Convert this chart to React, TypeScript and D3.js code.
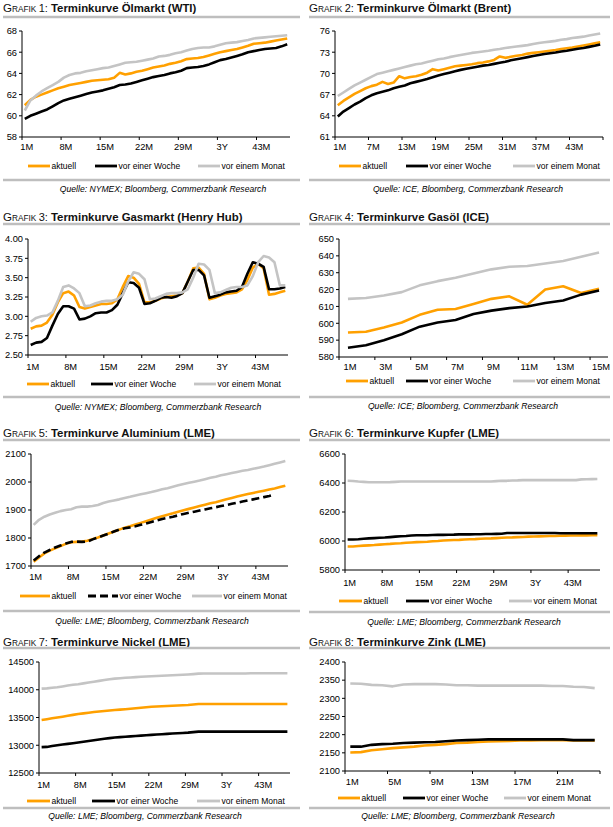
import * as d3 from "d3"

const ORANGE = "#FFA000"
const BLACK = "#000000"
const GRAY = "#C4C4C4"
const RULE = "#BEBEBE"
const FONT = "'Liberation Sans', Arial, Helvetica, sans-serif"

const months = (n: number) => d3.range(1, n + 1).map((m) => `${m}M`)

// categories
const cat48 = months(48)
const cat15 = months(15)
const cat24 = months(24)
const labelAlias: Record<string, string> = { "36M": "3Y" }

const legendNames = ["aktuell", "vor einer Woche", "vor einem Monat"]

// Grafik 1: WTI
const wtiAktuell = [61.0, 61.5, 61.8, 62.0, 62.2, 62.4, 62.6, 62.75, 62.9, 63.0, 63.1, 63.2, 63.3, 63.35, 63.4, 63.45, 63.6, 64.05, 63.9, 64.0, 64.15, 64.25, 64.4, 64.55, 64.65, 64.75, 64.9, 65.0, 65.15, 65.35, 65.4, 65.45, 65.55, 65.7, 65.85, 66.0, 66.1, 66.2, 66.3, 66.45, 66.6, 66.8, 66.85, 66.9, 67.0, 67.1, 67.2, 67.3]
const wtiWoche = [59.7, 60.0, 60.2, 60.4, 60.6, 60.9, 61.2, 61.45, 61.6, 61.75, 61.9, 62.05, 62.2, 62.3, 62.4, 62.55, 62.7, 62.9, 62.95, 63.05, 63.2, 63.35, 63.5, 63.65, 63.75, 63.85, 64.0, 64.1, 64.25, 64.5, 64.55, 64.6, 64.7, 64.85, 65.05, 65.25, 65.35, 65.5, 65.65, 65.8, 66.0, 66.1, 66.2, 66.3, 66.35, 66.4, 66.55, 66.75]
const wtiMonat = [60.5, 61.45, 61.9, 62.3, 62.6, 62.9, 63.2, 63.6, 63.85, 64.0, 64.05, 64.2, 64.3, 64.4, 64.5, 64.55, 64.7, 64.85, 65.0, 65.05, 65.1, 65.2, 65.3, 65.4, 65.6, 65.65, 65.75, 65.9, 66.0, 66.15, 66.3, 66.4, 66.45, 66.45, 66.55, 66.7, 66.85, 66.9, 66.95, 67.05, 67.15, 67.3, 67.35, 67.4, 67.45, 67.5, 67.55, 67.6]

// Grafik 2: Brent
const brentAktuell = [65.5, 66.1, 66.6, 67.1, 67.5, 67.9, 68.2, 68.4, 68.8, 68.5, 68.7, 69.6, 69.3, 69.5, 69.6, 69.8, 70.1, 70.6, 70.4, 70.6, 70.8, 71.0, 71.1, 71.2, 71.3, 71.45, 71.55, 71.7, 71.9, 72.4, 72.2, 72.35, 72.5, 72.6, 72.8, 72.9, 73.0, 73.1, 73.2, 73.3, 73.45, 73.55, 73.65, 73.8, 73.95, 74.1, 74.25, 74.4]
const brentWoche = [63.9, 64.6, 65.1, 65.6, 66.0, 66.5, 66.9, 67.2, 67.4, 67.6, 67.9, 68.1, 68.3, 68.6, 68.8, 69.0, 69.2, 69.45, 69.7, 69.9, 70.1, 70.3, 70.5, 70.65, 70.8, 70.95, 71.1, 71.2, 71.35, 71.5, 71.65, 71.85, 72.0, 72.15, 72.3, 72.45, 72.6, 72.75, 72.85, 72.95, 73.1, 73.2, 73.35, 73.5, 73.6, 73.75, 73.9, 74.1]
const brentMonat = [66.8, 67.3, 67.8, 68.3, 68.7, 69.1, 69.5, 69.9, 70.1, 70.3, 70.5, 70.7, 70.9, 71.1, 71.3, 71.4, 71.6, 71.8, 72.0, 72.1, 72.3, 72.45, 72.6, 72.75, 72.9, 73.0, 73.1, 73.2, 73.35, 73.45, 73.6, 73.7, 73.8, 73.9, 74.0, 74.15, 74.3, 74.4, 74.5, 74.6, 74.75, 74.85, 75.0, 75.1, 75.2, 75.35, 75.5, 75.65]

// Grafik 3: Henry Hub
const gasAktuell = [2.84, 2.87, 2.88, 2.92, 3.02, 3.18, 3.3, 3.32, 3.27, 3.12, 3.1, 3.12, 3.14, 3.16, 3.16, 3.17, 3.22, 3.38, 3.52, 3.5, 3.42, 3.18, 3.18, 3.2, 3.23, 3.25, 3.26, 3.27, 3.3, 3.45, 3.62, 3.63, 3.55, 3.22, 3.24, 3.27, 3.29, 3.3, 3.31, 3.35, 3.47, 3.63, 3.68, 3.62, 3.28, 3.29, 3.31, 3.33]
const gasWoche = [2.63, 2.66, 2.67, 2.72, 2.88, 3.03, 3.13, 3.13, 3.1, 2.96, 2.97, 3.0, 3.04, 3.05, 3.05, 3.08, 3.15, 3.3, 3.44, 3.43, 3.37, 3.16, 3.17, 3.2, 3.24, 3.25, 3.24, 3.26, 3.3, 3.45, 3.6, 3.6, 3.53, 3.24, 3.26, 3.28, 3.31, 3.32, 3.33, 3.38, 3.55, 3.7, 3.68, 3.64, 3.35, 3.35, 3.36, 3.38]
const gasMonat = [2.93, 2.98, 3.0, 3.01, 3.05, 3.2, 3.38, 3.4, 3.36, 3.3, 3.13, 3.14, 3.17, 3.19, 3.2, 3.2, 3.22, 3.28, 3.45, 3.57, 3.55, 3.48, 3.22, 3.23, 3.26, 3.29, 3.3, 3.3, 3.31, 3.35, 3.5, 3.68, 3.67, 3.6, 3.3, 3.31, 3.34, 3.37, 3.38, 3.38, 3.4, 3.52, 3.7, 3.78, 3.76, 3.7, 3.4, 3.4]

// Grafik 4: Gasöl
const gasoilAktuell = [594.5, 595, 597.5, 600.5, 605, 608, 608.5, 611.5, 614.5, 616, 611, 620, 622, 618, 620.5]
const gasoilWoche = [585.5, 587, 590, 593.5, 598, 600.5, 602, 605.5, 607.5, 609, 610, 612, 613.5, 617, 619.5]
const gasoilMonat = [614.5, 615, 616.5, 618.5, 622.5, 625, 627, 629.5, 632, 633.5, 634, 635.5, 637, 639.5, 642]

// Grafik 5: Aluminium
const aluAktuell = [1715, 1730, 1745, 1755, 1763, 1771, 1779, 1785, 1786, 1787, 1790, 1796, 1802, 1809, 1816, 1823, 1830, 1837, 1842, 1848, 1854, 1860, 1866, 1872, 1878, 1883, 1888, 1894, 1899, 1904, 1909, 1914, 1919, 1924, 1928, 1933, 1938, 1943, 1948, 1953, 1957, 1961, 1965, 1969, 1973, 1977, 1982, 1987]
const aluWoche = [1720, 1735, 1748, 1757, 1766, 1773, 1780, 1786, 1787, 1786, 1787, 1795, 1802, 1809, 1815, 1823, 1830, 1835, 1838, 1842, 1847, 1852, 1857, 1863, 1868, 1872, 1876, 1881, 1886, 1890, 1894, 1898, 1902, 1906, 1910, 1914, 1918, 1922, 1926, 1930, 1934, 1938, 1942, 1946, 1950, 1955]
const aluMonat = [1847, 1865, 1876, 1884, 1890, 1896, 1900, 1903, 1910, 1912, 1912, 1914, 1918, 1925, 1930, 1934, 1938, 1943, 1947, 1952, 1956, 1960, 1964, 1969, 1974, 1978, 1983, 1988, 1993, 1997, 2001, 2005, 2010, 2015, 2019, 2024, 2028, 2032, 2036, 2040, 2043, 2047, 2051, 2055, 2060, 2065, 2070, 2075]

// Grafik 6: Kupfer
const cuAktuell = [5962, 5962, 5965, 5968, 5970, 5972, 5975, 5978, 5980, 5983, 5985, 5988, 5990, 5992, 5993, 5995, 5998, 6000, 6003, 6005, 6007, 6008, 6010, 6012, 6013, 6015, 6017, 6018, 6020, 6022, 6024, 6025, 6027, 6028, 6030, 6031, 6032, 6033, 6034, 6035, 6036, 6037, 6038, 6038, 6039, 6039, 6040, 6040]
const cuWoche = [6010, 6010, 6012, 6015, 6018, 6020, 6022, 6024, 6027, 6030, 6033, 6035, 6038, 6040, 6040, 6040, 6041, 6042, 6042, 6043, 6044, 6046, 6046, 6046, 6047, 6047, 6048, 6048, 6049, 6050, 6055, 6055, 6055, 6055, 6055, 6055, 6055, 6055, 6055, 6055, 6053, 6053, 6053, 6053, 6053, 6053, 6053, 6053]
const cuMonat = [6415, 6414, 6410, 6408, 6405, 6405, 6405, 6405, 6406, 6408, 6410, 6410, 6410, 6410, 6410, 6410, 6410, 6410, 6410, 6410, 6410, 6410, 6410, 6410, 6410, 6410, 6410, 6410, 6413, 6415, 6415, 6417, 6418, 6420, 6420, 6420, 6420, 6420, 6420, 6420, 6420, 6420, 6420, 6420, 6425, 6426, 6427, 6428]

// Grafik 7: Nickel
const niAktuell = [13455, 13470, 13485, 13500, 13515, 13530, 13547, 13563, 13575, 13587, 13598, 13608, 13617, 13626, 13634, 13642, 13650, 13659, 13668, 13677, 13686, 13694, 13699, 13704, 13708, 13712, 13716, 13720, 13724, 13733, 13742, 13742, 13742, 13742, 13742, 13742, 13742, 13742, 13742, 13742, 13742, 13742, 13742, 13742, 13742, 13742, 13742, 13742]
const niWoche = [12966, 12970, 12985, 13000, 13012, 13025, 13037, 13049, 13063, 13077, 13091, 13105, 13118, 13129, 13139, 13146, 13153, 13160, 13167, 13174, 13181, 13187, 13193, 13199, 13205, 13211, 13217, 13222, 13228, 13237, 13246, 13246, 13246, 13246, 13246, 13246, 13246, 13246, 13246, 13246, 13246, 13246, 13246, 13246, 13246, 13246, 13246, 13246]
const niMonat = [14020, 14025, 14035, 14045, 14060, 14075, 14090, 14100, 14115, 14130, 14145, 14160, 14175, 14188, 14200, 14208, 14215, 14222, 14228, 14233, 14238, 14243, 14248, 14253, 14257, 14262, 14266, 14270, 14275, 14282, 14290, 14292, 14292, 14292, 14292, 14292, 14292, 14292, 14292, 14292, 14296, 14296, 14296, 14296, 14296, 14296, 14296, 14296]

// Grafik 8: Zink
const znAktuell = [2151, 2152, 2157, 2160, 2163, 2165, 2167, 2170, 2172, 2174, 2177, 2178, 2180, 2181, 2182, 2183, 2184, 2184, 2185, 2185, 2185, 2184, 2184, 2184]
const znWoche = [2167, 2167, 2172, 2174, 2175, 2177, 2178, 2179, 2180, 2182, 2184, 2185, 2186, 2187, 2187, 2187, 2187, 2187, 2187, 2187, 2187, 2185, 2185, 2185]
const znMonat = [2341, 2340, 2337, 2336, 2333, 2338, 2339, 2339, 2339, 2338, 2336, 2336, 2335, 2335, 2335, 2335, 2335, 2335, 2335, 2334, 2334, 2332, 2331, 2328]

type Box = {
  left: number
  ruleRight: number
  titleY: number
  ruleY: number
  axisX: number
  top: number
  bottom: number
  right: number
  labelY: number
  legendY: number
  legendX: number[]
  legendLen: number
  footY: number
  sourceX: number
  sourceY: number
}

interface PanelProps {
  num: number
  title: string
  source: string
  categories: string[]
  every: number
  yTicks: number[]
  yFormat?: (v: number) => string
  series: number[][]
  dashed?: boolean
  box: Box
}

function Panel({ num, title, source, categories, every, yTicks, yFormat, series, dashed, box: b }: PanelProps) {
  const x = d3.scaleBand<string>().domain(categories).range([b.axisX, b.right])
  const bw = x.bandwidth()
  const y = d3
    .scaleLinear()
    .domain([yTicks[0], yTicks[yTicks.length - 1]])
    .range([b.bottom, b.top])

  const line = d3
    .line<number>()
    .x((_, i) => (x(categories[i]) as number) + bw / 2)
    .y((d) => y(d))

  const colors = [ORANGE, BLACK, GRAY]
  const fmt = yFormat ?? ((v: number) => `${v}`)
  const shown = categories.filter((_, i) => i % every === 0)
  const tickCount = Math.floor(categories.length / every)

  return (
    <g>
      <text x={b.left} y={b.titleY} fontFamily={FONT} fill="#111">
        <tspan fontSize={11.5}>G</tspan>
        <tspan fontSize={8.3}>RAFIK </tspan>
        <tspan fontSize={11}>{num}: </tspan>
        <tspan fontSize={11.4} fontWeight="bold">{title}</tspan>
      </text>
      <line x1={b.left} x2={b.ruleRight} y1={b.ruleY} y2={b.ruleY} stroke={RULE} strokeWidth={2.5} />

      {/* y axis */}
      <line x1={b.axisX} x2={b.axisX} y1={b.top} y2={b.bottom} stroke="#000" strokeWidth={1} />
      {yTicks.map((t) => (
        <g key={t}>
          <line x1={b.axisX - 3} x2={b.axisX} y1={y(t)} y2={y(t)} stroke="#000" strokeWidth={1} />
          <text x={b.axisX - 5} y={y(t) + 3.3} textAnchor="end" fontSize={9.3} fontFamily={FONT}>
            {fmt(t)}
          </text>
        </g>
      ))}

      {/* x axis */}
      <line x1={b.axisX} x2={b.right} y1={b.bottom} y2={b.bottom} stroke="#000" strokeWidth={1} />
      {d3.range(0, tickCount + 1).map((k) => {
        const px = b.axisX + k * every * bw
        return <line key={k} x1={px} x2={px} y1={b.bottom} y2={b.bottom + 3} stroke="#000" strokeWidth={1} />
      })}
      {shown.map((c) => (
        <text key={c} x={(x(c) as number) + bw / 2 + 2} y={b.labelY} textAnchor="middle" fontSize={9.3} fontFamily={FONT}>
          {labelAlias[c] ?? c}
        </text>
      ))}

      {/* series */}
      {series.map((s, i) => (
        <path
          key={i}
          d={line(s) ?? ""}
          fill="none"
          stroke={colors[i]}
          strokeWidth={2.6}
          strokeLinejoin="round"
          strokeDasharray={dashed && i === 1 ? "8,4" : undefined}
        />
      ))}

      {/* legend */}
      {legendNames.map((n, i) => (
        <g key={n}>
          <line
            x1={b.legendX[i]}
            x2={b.legendX[i] + b.legendLen}
            y1={b.legendY}
            y2={b.legendY}
            stroke={colors[i]}
            strokeWidth={2.8}
            strokeDasharray={dashed && i === 1 ? "8,4" : undefined}
          />
          <text x={b.legendX[i] + b.legendLen + 1.5} y={b.legendY + 3} fontSize={8.5} fontFamily={FONT}>
            {n}
          </text>
        </g>
      ))}

      <line x1={b.left} x2={b.ruleRight} y1={b.footY} y2={b.footY} stroke={RULE} strokeWidth={2.5} />
      <text x={b.sourceX} y={b.sourceY} textAnchor="middle" fontSize={8.6} fontStyle="italic" fontFamily={FONT}>
        {source}
      </text>
    </g>
  )
}

const fmt2 = (v: number) => v.toFixed(2)

export default function App() {
  return (
    <svg
      width={613}
      height={827}
      style={{ position: "absolute", left: 0, top: 0, background: "#fff" }}
    >
      <Panel
        num={1}
        title="Terminkurve Ölmarkt (WTI)"
        source="Quelle: NYMEX; Bloomberg, Commerzbank Research"
        categories={cat48}
        every={7}
        yTicks={[58, 60, 62, 64, 66, 68]}
        series={[wtiAktuell, wtiWoche, wtiMonat]}
        box={{ left: 3, ruleRight: 300, titleY: 12, ruleY: 17, axisX: 22, top: 31, bottom: 137, right: 290, labelY: 150, legendY: 166, legendX: [28, 95, 198], legendLen: 22, footY: 180, sourceX: 163, sourceY: 192 }}
      />
      <Panel
        num={2}
        title="Terminkurve Ölmarkt (Brent)"
        source="Quelle: ICE, Bloomberg, Commerzbank Research"
        categories={cat48}
        every={6}
        yTicks={[61, 64, 67, 70, 73, 76]}
        series={[brentAktuell, brentWoche, brentMonat]}
        box={{ left: 309, ruleRight: 610, titleY: 12, ruleY: 17, axisX: 335, top: 31, bottom: 137, right: 603, labelY: 150, legendY: 166, legendX: [339, 406, 513], legendLen: 22, footY: 180, sourceX: 468, sourceY: 192 }}
      />
      <Panel
        num={3}
        title="Terminkurve Gasmarkt (Henry Hub)"
        source="Quelle: NYMEX; Bloomberg, Commerzbank Research"
        categories={cat48}
        every={7}
        yTicks={[2.5, 2.75, 3, 3.25, 3.5, 3.75, 4]}
        yFormat={fmt2}
        series={[gasAktuell, gasWoche, gasMonat]}
        box={{ left: 3, ruleRight: 300, titleY: 221, ruleY: 224, axisX: 28, top: 239, bottom: 355, right: 288, labelY: 370, legendY: 384, legendX: [27, 91, 194], legendLen: 22, footY: 397, sourceX: 158, sourceY: 410 }}
      />
      <Panel
        num={4}
        title="Terminkurve Gasöl (ICE)"
        source="Quelle: ICE; Bloomberg, Commerzbank Research"
        categories={cat15}
        every={2}
        yTicks={[580, 590, 600, 610, 620, 630, 640, 650]}
        series={[gasoilAktuell, gasoilWoche, gasoilMonat]}
        box={{ left: 309, ruleRight: 610, titleY: 221, ruleY: 224, axisX: 339, top: 239, bottom: 357, right: 608, labelY: 370, legendY: 381, legendX: [346, 406, 513], legendLen: 22, footY: 397, sourceX: 463, sourceY: 409 }}
      />
      <Panel
        num={5}
        title="Terminkurve Aluminium (LME)"
        source="Quelle: LME; Bloomberg, Commerzbank Research"
        categories={cat48}
        every={7}
        yTicks={[1700, 1800, 1900, 2000, 2100]}
        series={[aluAktuell, aluWoche, aluMonat]}
        dashed
        box={{ left: 3, ruleRight: 300, titleY: 437, ruleY: 440, axisX: 31, top: 454, bottom: 566, right: 288, labelY: 580, legendY: 596, legendX: [20, 88, 192], legendLen: 30, footY: 611, sourceX: 152, sourceY: 624 }}
      />
      <Panel
        num={6}
        title="Terminkurve Kupfer (LME)"
        source="Quelle: LME; Bloomberg, Commerzbank Research"
        categories={cat48}
        every={7}
        yTicks={[5800, 6000, 6200, 6400, 6600]}
        series={[cuAktuell, cuWoche, cuMonat]}
        box={{ left: 309, ruleRight: 610, titleY: 437, ruleY: 440, axisX: 345, top: 454, bottom: 570, right: 600, labelY: 586, legendY: 601, legendX: [339, 406, 509], legendLen: 23, footY: 612, sourceX: 464, sourceY: 625 }}
      />
      <Panel
        num={7}
        title="Terminkurve Nickel (LME)"
        source="Quelle: LME; Bloomberg, Commerzbank Research"
        categories={cat48}
        every={7}
        yTicks={[12500, 13000, 13500, 14000, 14500]}
        series={[niAktuell, niWoche, niMonat]}
        box={{ left: 3, ruleRight: 300, titleY: 646, ruleY: 648, axisX: 39, top: 662, bottom: 773, right: 290, labelY: 788, legendY: 801, legendX: [27, 92, 197], legendLen: 23, footY: 808, sourceX: 145, sourceY: 819 }}
      />
      <Panel
        num={8}
        title="Terminkurve Zink (LME)"
        source="Quelle: LME; Bloomberg, Commerzbank Research"
        categories={cat24}
        every={4}
        yTicks={[2100, 2150, 2200, 2250, 2300, 2350, 2400]}
        series={[znAktuell, znWoche, znMonat]}
        box={{ left: 309, ruleRight: 610, titleY: 646, ruleY: 648, axisX: 345, top: 662, bottom: 771, right: 600, labelY: 785, legendY: 798, legendX: [338, 403, 504], legendLen: 22, footY: 808, sourceX: 458, sourceY: 819 }}
      />
    </svg>
  )
}
